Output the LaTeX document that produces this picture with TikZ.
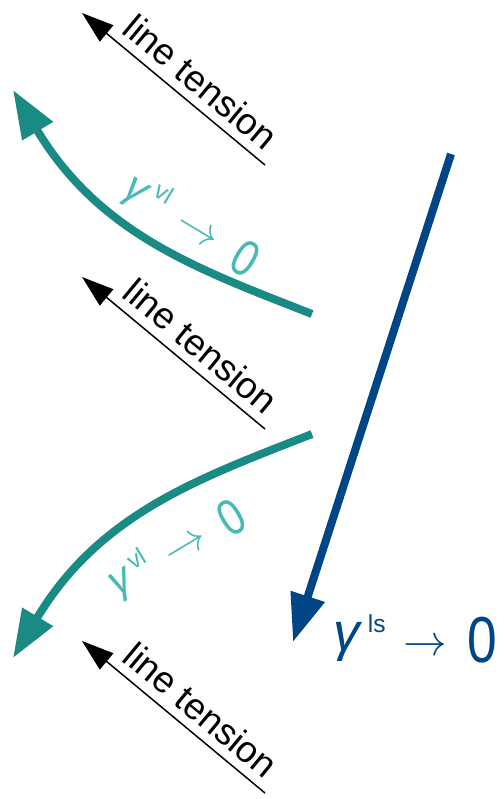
\documentclass[tikz,border=0pt]{standalone}
\usepackage{fontspec}
\setmainfont{Liberation Sans}
\usepackage{xcolor}
\usepackage{graphicx}
\usetikzlibrary{arrows.meta}
\definecolor{wetteal}{RGB}{26,138,133}
\definecolor{labelteal}{RGB}{72,186,182}
\definecolor{solidblue}{RGB}{0,70,135}
\newcommand{\bigsize}{\fontsize{37}{37}\selectfont}
\newcommand{\midsize}{\fontsize{29}{29}\selectfont}
\newcommand{\supsize}{\fontsize{14}{14}\selectfont}
\newcommand{\arrowsize}{\fontsize{33}{33}\selectfont}
% gamma^{sup} -> 0 in a given size
\newcommand{\tolabel}[2]{#1\raisebox{.17em}{\scalebox{0.82}{\itshape γ}}\hspace{.12em}\raisebox{.45em}{\supsize #2}\hspace{10pt}\raisebox{3.5pt}{\arrowsize$\rightarrow$}\hspace{12pt}\scalebox{0.82}[1]{0}}
\tikzset{
  tensionline/.style={draw=black, line width=0.85pt, {Triangle[length=0.64cm,width=0.42cm]}-},
  tensiontext/.style={sloped, above, pos=0.57, inner sep=5pt, font=\fontsize{21}{21}\selectfont},
  fatarrow/.style={line width=0.16cm, -{Triangle[length=0.96cm,width=0.68cm]}},
}

\begin{document}
\begin{tikzpicture}[x=0.02cm, y=-0.02cm]
  \useasboundingbox (0,0) rectangle (504,799);

  % line tension arrows
  \coordinate (tension1tip) at (82,13);
  \coordinate (tension1tail) at (265,165);
  \coordinate (tension2tip) at (82,277);
  \coordinate (tension2tail) at (265,429);
  \coordinate (tension3tip) at (82,641);
  \coordinate (tension3tail) at (265,793);
  \draw[tensionline] (tension1tip) -- node[tensiontext] {line tension} (tension1tail);
  \draw[tensionline] (tension2tip) -- node[tensiontext] {line tension} (tension2tail);
  \draw[tensionline] (tension3tip) -- node[tensiontext] {line tension} (tension3tail);

  % vapour-liquid surfaces
  \coordinate (vltopstart) at (312,314);
  \coordinate (vltopend) at (13,90);
  \coordinate (vlbotstart) at (312,434);
  \coordinate (vlbotend) at (13,658);
  \draw[fatarrow, wetteal] (vltopstart) .. controls (200,270) and (100,235) .. (vltopend);
  \draw[fatarrow, wetteal] (vlbotstart) .. controls (200,478) and (100,513) .. (vlbotend);
  \node (vltop) [text=labelteal, rotate=-31] at (192,223) {\tolabel{\midsize}{vl}};
  \node (vlbot) [text=labelteal, rotate=31] at (176,548) {\tolabel{\midsize}{vl}};

  % liquid-solid surface
  \coordinate (lsstart) at (451,154);
  \coordinate (lsend) at (293,642);
  \draw[fatarrow, solidblue] (lsstart) -- (lsend);
  \node (lsterm) [text=solidblue, anchor=base west, inner sep=0pt] at (333,662) {\tolabel{\bigsize}{ls}};
\end{tikzpicture}
\end{document}
